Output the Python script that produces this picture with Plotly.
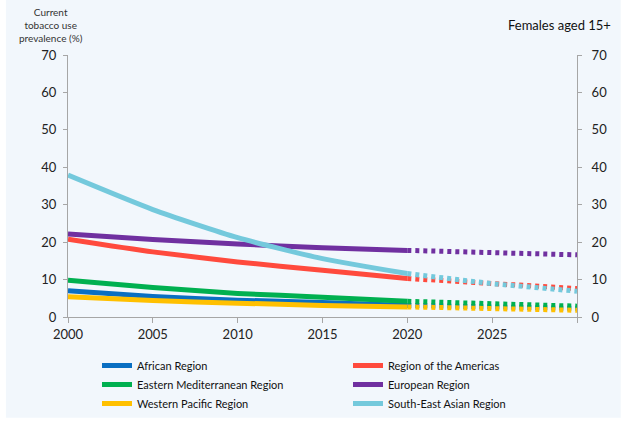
import plotly.graph_objects as go

years_hist = [2000, 2005, 2010, 2015, 2020]
years_proj = [2020, 2025, 2030]

regions = ["African Region", "Region of the Americas", "Eastern Mediterranean Region",
           "European Region", "Western Pacific Region", "South-East Asian Region"]
colors = ["#0A6FC2", "#FF4A3D", "#00B050", "#7030A0", "#FFC000", "#74C9DC"]

hist = {
    "African Region": [7.0, 5.5, 4.5, 3.9, 3.1],
    "Region of the Americas": [20.8, 17.4, 14.7, 12.5, 10.3],
    "Eastern Mediterranean Region": [9.8, 7.9, 6.3, 5.3, 4.2],
    "European Region": [22.2, 20.7, 19.5, 18.5, 17.8],
    "Western Pacific Region": [5.4, 4.4, 3.7, 3.1, 2.7],
    "South-East Asian Region": [37.9, 28.7, 21.2, 15.6, 11.6],
}
proj = {
    "African Region": [3.1, 2.7, 2.3],
    "Region of the Americas": [10.3, 8.9, 7.6],
    "Eastern Mediterranean Region": [4.2, 3.6, 2.9],
    "European Region": [17.8, 17.2, 16.6],
    "Western Pacific Region": [2.7, 2.3, 1.8],
    "South-East Asian Region": [11.6, 8.9, 6.9],
}

x_ticks = [2000, 2005, 2010, 2015, 2020, 2025, 2030]
x_labels = ["2000", "2005", "2010", "2015", "2020", "2025", ""]
y_ticks = [0, 10, 20, 30, 40, 50, 60, 70]

fig = go.Figure()
for name, col in zip(regions, colors):
    fig.add_trace(go.Scatter(x=years_hist, y=hist[name], mode="lines", name=name,
                             line=dict(color=col, width=5, shape="spline", smoothing=0.6),
                             hoverinfo="skip"))
for name, col in zip(regions, colors):
    fig.add_trace(go.Scatter(x=years_proj, y=proj[name], mode="lines", name=name,
                             showlegend=False,
                             line=dict(color=col, width=5, dash="4px,4px"),
                             hoverinfo="skip"))
# invisible trace to activate right axis
fig.add_trace(go.Scatter(x=[2000], y=[0], yaxis="y2", mode="markers",
                         marker=dict(opacity=0), showlegend=False, hoverinfo="skip"))

axis_col = "#A6A6A6"
tick_font = dict(family="Lato, Open Sans, sans-serif", size=13, color="#222222")
fig.update_layout(
    width=627, height=429,
    margin=dict(l=68, r=50, t=55, b=112, autoexpand=False),
    paper_bgcolor="white",
    plot_bgcolor="rgba(0,0,0,0)",
    font=dict(family="Lato, Open Sans, sans-serif", size=12, color="#222222"),
    xaxis=dict(range=[2000, 2030], tickvals=x_ticks, ticktext=x_labels,
               showgrid=False, zeroline=False, showline=True, linecolor=axis_col, linewidth=1,
               ticks="outside", ticklen=5, tickcolor=axis_col, tickfont=tick_font),
    yaxis=dict(range=[0, 70], tickvals=y_ticks, showgrid=False, zeroline=False,
               showline=True, linecolor=axis_col, linewidth=1, ticks="outside", ticklen=4,
               tickcolor=axis_col, tickfont=tick_font, ticklabelstandoff=4),
    yaxis2=dict(range=[0, 70], tickvals=y_ticks, overlaying="y", side="right",
                showgrid=False, zeroline=False, showline=True, linecolor=axis_col, linewidth=1,
                ticks="outside", ticklen=4, tickcolor=axis_col, tickfont=tick_font,
                ticklabelstandoff=7),
    legend=dict(orientation="h", xref="container", yref="container",
                x=0.1547, y=0.1818, xanchor="left", yanchor="top",
                entrywidth=206, entrywidthmode="pixels", bgcolor="rgba(0,0,0,0)",
                font=dict(family="Lato, Open Sans, sans-serif", size=11, color="#111111")),
    shapes=[dict(type="rect", xref="paper", yref="paper", x0=-0.122, x1=1.086,
                 y0=-0.385, y1=1.22, fillcolor="#F2F7FC", line=dict(width=0), layer="below")],
    annotations=[
        dict(text="Current<br>tobacco use<br>prevalence (%)", xref="paper", yref="paper",
             x=-0.034, y=1.195, xanchor="center", yanchor="top", showarrow=False,
             font=dict(family="Lato, Open Sans, sans-serif", size=10, color="#333333")),
        dict(text="Females aged 15+", xref="paper", yref="paper", x=1.071, y=1.114,
             xanchor="right", yanchor="middle", showarrow=False,
             font=dict(family="Lato, Open Sans, sans-serif", size=13, color="#111111")),
    ],
)
fig.write_html("out.html", config={"displayModeBar": False},
               post_script="document.body.style.margin='0';")
